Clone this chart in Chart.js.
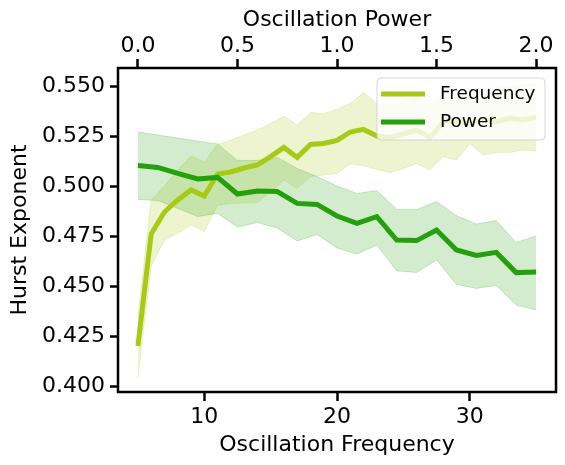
<!DOCTYPE html>
<html>
<head>
<meta charset="utf-8">
<script src="https://cdn.jsdelivr.net/npm/chart.js@4.4.1/dist/chart.umd.min.js"></script>
<style>
  html, body { margin: 0; padding: 0; background: #fff; }
  #wrap { width: 565px; height: 465px; }
</style>
</head>
<body>
<div id="wrap"><canvas id="chart" width="565" height="465"></canvas></div>
<script>
// --- data ---
const freqs = [5, 6, 7, 8, 9, 10, 11, 12, 13, 14, 15, 16, 17, 18, 19, 20,
               21, 22, 23, 24, 25, 26, 27, 28, 29, 30, 31, 32, 33, 34, 35];
const freqMean = [0.420, 0.476, 0.487, 0.493, 0.498, 0.495, 0.506, 0.507, 0.509, 0.5105, 0.5147,
                  0.5193, 0.5143, 0.5208, 0.5213, 0.5228, 0.527, 0.5283, 0.525, 0.5243, 0.526,
                  0.528, 0.5243, 0.532, 0.533, 0.531, 0.5335, 0.532, 0.534, 0.533, 0.5343];
const freqLower = [0.404, 0.460, 0.473, 0.4763, 0.4805, 0.4772, 0.4905, 0.4912, 0.4915, 0.4917, 0.4972,
                   0.503, 0.4988, 0.5047, 0.5055, 0.5063, 0.511, 0.5102, 0.5083, 0.5067, 0.5088,
                   0.5113, 0.508, 0.5147, 0.513, 0.5213, 0.5155, 0.5167, 0.5167, 0.518, 0.5175];
const freqUpper = [0.435, 0.493, 0.500, 0.508, 0.515, 0.512, 0.5208, 0.523, 0.5255, 0.528, 0.5313,
                   0.535, 0.5305, 0.5367, 0.5363, 0.5383, 0.5413, 0.5467, 0.5413, 0.540, 0.542,
                   0.545, 0.540, 0.546, 0.544, 0.548, 0.547, 0.550, 0.549, 0.551, 0.551];

const powers = [0.0, 0.1, 0.2, 0.3, 0.4, 0.5, 0.6, 0.7, 0.8, 0.9, 1.0,
                1.1, 1.2, 1.3, 1.4, 1.5, 1.6, 1.7, 1.8, 1.9, 2.0];
const powerMean = [0.5103, 0.5093, 0.5063, 0.5035, 0.5043, 0.496, 0.4975, 0.4972, 0.4913, 0.4908, 0.485,
                   0.4813, 0.4847, 0.473, 0.4727, 0.478, 0.468, 0.4653, 0.4668, 0.4567, 0.457];
const powerUpper = [0.527, 0.5255, 0.524, 0.5225, 0.521, 0.5128, 0.5128, 0.5143, 0.5088, 0.5047, 0.500,
                    0.4963, 0.4977, 0.4883, 0.4883, 0.4922, 0.4852, 0.481, 0.4827, 0.4717, 0.4752];
const powerLower = [0.4933, 0.4927, 0.4888, 0.4847, 0.4863, 0.4795, 0.4817, 0.479, 0.4725, 0.4758, 0.469,
                    0.466, 0.4705, 0.4575, 0.4568, 0.463, 0.4508, 0.4488, 0.4503, 0.4405, 0.438];

const yTicks = [0.400, 0.425, 0.450, 0.475, 0.500, 0.525, 0.550];
const freqTicks = [10, 20, 30];
const powerTicks = [0.0, 0.5, 1.0, 1.5, 2.0];

const FREQ_COLOR = 'rgb(168, 201, 22)';
const POWER_COLOR = 'rgb(36, 160, 12)';
const FONT = '"DejaVu Sans", sans-serif';

const pts = (xs, ys) => xs.map((x, i) => ({ x: x, y: ys[i] }));
const band = (c) => c.replace('rgb', 'rgba').replace(')', ', 0.2)');

// frame around plot + legend with border (matplotlib style)
const frameAndLegend = {
    id: 'frameAndLegend',
    afterDraw(chart) {
        const { ctx, chartArea: a } = chart;
        ctx.save();
        ctx.strokeStyle = '#000';
        ctx.lineWidth = 2.5;
        ctx.strokeRect(a.left, a.top, a.right - a.left, a.bottom - a.top);

        // legend
        const items = chart.data.datasets.filter(d => d.inLegend);
        const w = 168, h = 62;
        const x0 = a.right - 11 - w, y0 = a.top + 10;
        ctx.beginPath();
        ctx.roundRect(x0, y0, w, h, 4);
        ctx.fillStyle = 'rgba(255,255,255,0.8)';
        ctx.fill();
        ctx.strokeStyle = 'rgba(204,204,204,0.8)';
        ctx.lineWidth = 1;
        ctx.stroke();
        ctx.font = '18.5px ' + FONT;
        ctx.textBaseline = 'middle';
        items.forEach((d, i) => {
            const yy = y0 + 16 + i * 28;
            ctx.strokeStyle = d.borderColor;
            ctx.lineWidth = 5;
            ctx.beginPath();
            ctx.moveTo(x0 + 4, yy);
            ctx.lineTo(x0 + 48, yy);
            ctx.stroke();
            ctx.fillStyle = '#000';
            ctx.fillText(d.label, x0 + 63, yy);
        });
        ctx.restore();
    }
};

const tickGrid = (len) => ({
    display: true, drawOnChartArea: false, drawTicks: true,
    tickLength: len, tickWidth: 2.5, tickColor: '#000'
});

new Chart(document.getElementById('chart'), {
    type: 'line',
    data: {
        datasets: [
            { label: 'freqUpper', data: pts(freqs, freqUpper), xAxisID: 'x', order: 4,
              borderColor: band(FREQ_COLOR), borderWidth: 1, fill: false },
            { label: 'freqLower', data: pts(freqs, freqLower), xAxisID: 'x', order: 4,
              borderColor: band(FREQ_COLOR), borderWidth: 1, fill: '-1', backgroundColor: band(FREQ_COLOR) },
            { label: 'powerUpper', data: pts(powers, powerUpper), xAxisID: 'x2', order: 3,
              borderColor: band(POWER_COLOR), borderWidth: 1, fill: false },
            { label: 'powerLower', data: pts(powers, powerLower), xAxisID: 'x2', order: 3,
              borderColor: band(POWER_COLOR), borderWidth: 1, fill: '-1', backgroundColor: band(POWER_COLOR) },
            { label: 'Frequency', inLegend: true, data: pts(freqs, freqMean), xAxisID: 'x', order: 2,
              borderColor: FREQ_COLOR, borderWidth: 5, fill: false },
            { label: 'Power', inLegend: true, data: pts(powers, powerMean), xAxisID: 'x2', order: 1,
              borderColor: POWER_COLOR, borderWidth: 5, fill: false }
        ]
    },
    options: {
        responsive: false,
        animation: false,
        devicePixelRatio: 1,
        layout: { padding: { left: 0, right: 9, top: 0, bottom: 0 } },
        elements: { point: { radius: 0 }, line: { tension: 0, borderJoinStyle: 'miter', borderCapStyle: 'butt' } },
        plugins: { legend: { display: false }, tooltip: { enabled: false } },
        scales: {
            x: {
                type: 'linear', position: 'bottom', min: 3.5, max: 36.5,
                afterBuildTicks: s => { s.ticks = freqTicks.map(v => ({ value: v })); },
                afterFit: s => { s.height = 73; },
                grid: tickGrid(9),
                border: { display: false },
                ticks: { color: '#000', padding: 3, font: { family: FONT, size: 22 }, maxRotation: 0 },
                title: { display: true, text: 'Oscillation Frequency', color: '#000',
                         font: { family: FONT, size: 22 }, padding: { top: 0, bottom: 7 } }
            },
            x2: {
                type: 'linear', position: 'top', min: -0.1, max: 2.1,
                afterBuildTicks: s => { s.ticks = powerTicks.map(v => ({ value: v })); },
                afterFit: s => { s.height = 68; },
                grid: tickGrid(9),
                border: { display: false },
                ticks: { color: '#000', padding: 0, font: { family: FONT, size: 22 }, maxRotation: 0,
                         callback: v => v.toFixed(1) },
                title: { display: true, text: 'Oscillation Power', color: '#000',
                         font: { family: FONT, size: 22 }, padding: { top: 7, bottom: 0 } }
            },
            y: {
                type: 'linear', position: 'left', min: 0.397, max: 0.559,
                afterBuildTicks: s => { s.ticks = yTicks.map(v => ({ value: v })); },
                afterFit: s => { s.width = 118; },
                grid: tickGrid(8),
                border: { display: false },
                ticks: { color: '#000', padding: 5, font: { family: FONT, size: 22 },
                         callback: v => v.toFixed(3) },
                title: { display: true, text: 'Hurst Exponent', color: '#000',
                         font: { family: FONT, size: 22 }, padding: { top: 7, bottom: 0 } }
            }
        }
    },
    plugins: [frameAndLegend]
});
</script>
</body>
</html>
